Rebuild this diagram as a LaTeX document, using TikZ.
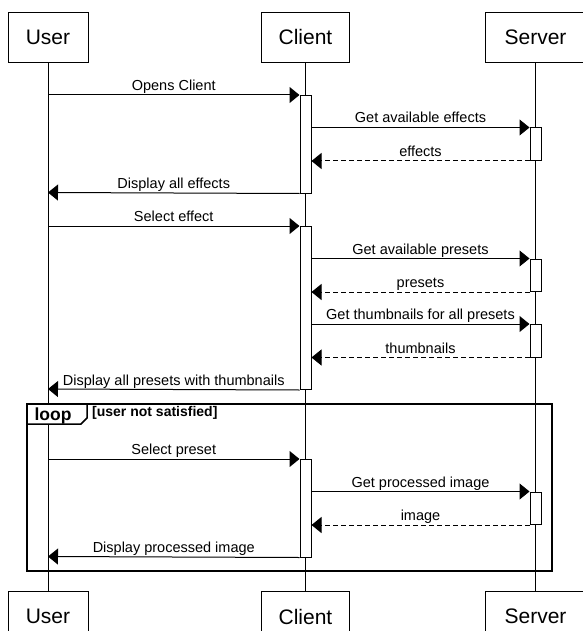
\documentclass[tikz,border=0pt]{standalone}
\usepackage{fontspec}
\setmainfont{Liberation Sans}
\usetikzlibrary{positioning,arrows.meta}

\begin{document}
\begin{tikzpicture}[x=1pt, y=-1pt,
        actor/.style = {
            draw,
            line width=1pt,
            minimum height=50pt,
            inner sep=0pt,
            font=\fontsize{21}{25}\selectfont
        },
        bar/.style = {draw, fill=white, line width=1pt, minimum width=11pt, inner sep=0pt},
        msg/.style = {-{Triangle[length=10pt,width=16pt]}, line width=1pt},
        reply/.style = {msg, dash pattern=on 5pt off 3pt},
        lbl/.style = {midway, anchor=base, yshift=4.5pt, inner sep=0pt, font=\fontsize{14.5}{17}\selectfont},
        tag/.style = {inner sep=0pt, font=\bfseries\fontsize{14}{17}\selectfont}]

        \useasboundingbox (0,0) rectangle (582,631);

        % actors
        \node[actor, minimum width=80pt] (usertop) at (48,37.3) {User};
        \node[actor, minimum width=88pt] (clienttop) at (305.5,37.3) {Client};
        \node[actor, minimum width=100pt] (servertop) at (535.5,37.3) {Server};
        \node[actor, minimum width=80pt, anchor=north] (userbot) at (48,591) {User};
        \node[actor, minimum width=88pt, anchor=north] (clientbot) at (305.5,591) {Client};
        \node[actor, minimum width=100pt, anchor=north] (serverbot) at (535.5,591) {Server};

        \draw[line width=1pt] (usertop) -- (userbot);
        \draw[line width=1pt] (clienttop) -- (clientbot);
        \draw[line width=1pt] (servertop) -- (serverbot);

        % activations
        \node[bar, anchor=north, minimum height=97.5pt] (cbar1) at (305.5,95) {};
        \node[bar, anchor=north, minimum height=163pt] (cbar2) at (305.5,226) {};
        \node[bar, anchor=north, minimum height=97.5pt] (cbar3) at (305.5,459) {};
        \node[bar, anchor=north, minimum height=32.5pt] (sbar1) at (535.5,127.5) {};
        \node[bar, anchor=north, minimum height=32.5pt] (sbar2) at (535.5,258.5) {};
        \node[bar, anchor=north, minimum height=32.5pt] (sbar3) at (535.5,324) {};
        \node[bar, anchor=north, minimum height=32.5pt] (sbar4) at (535.5,491.5) {};

        \coordinate (u1) at (48,95);
        \coordinate (u2) at (48,192.5);
        \coordinate (u3) at (48,226);
        \coordinate (u4) at (48,389);
        \coordinate (u5) at (48,459);
        \coordinate (u6) at (48,556.5);

        % messages
        \draw[msg] (u1) -- (cbar1.north west) node[lbl] {Opens Client};
        \draw[msg] (cbar1.east |- sbar1.north) -- (sbar1.north west) node[lbl] {Get available effects};
        \draw[reply] (sbar1.south west) -- (cbar1.east |- sbar1.south) node[lbl] {effects};
        \draw[msg] (cbar1.south west) -- (u2) node[lbl] {Display all effects};

        \draw[msg] (u3) -- (cbar2.north west) node[lbl] {Select effect};
        \draw[msg] (cbar2.east |- sbar2.north) -- (sbar2.north west) node[lbl] {Get available presets};
        \draw[reply] (sbar2.south west) -- (cbar2.east |- sbar2.south) node[lbl] {presets};
        \draw[msg] (cbar2.east |- sbar3.north) -- (sbar3.north west) node[lbl] {Get thumbnails for all presets};
        \draw[reply] (sbar3.south west) -- (cbar2.east |- sbar3.south) node[lbl] {thumbnails};
        \draw[msg] (cbar2.south west) -- (u4) node[lbl] {Display all presets with thumbnails};

        % loop frame
        \draw[line width=2pt] (27,404) rectangle (552,571);
        \draw[line width=1.5pt, fill=white] (27,404) -- (87,404) -- (87,418) -- (81,424) -- (27,424) -- cycle;
        \node[tag, anchor=base, font=\bfseries\fontsize{17.5}{20}\selectfont] (looptag) at (53,420) {loop};
        \node[tag, anchor=base west] (guard) at (92,416) {[user not satisfied]};

        \draw[msg] (u5) -- (cbar3.north west) node[lbl] {Select preset};
        \draw[msg] (cbar3.east |- sbar4.north) -- (sbar4.north west) node[lbl] {Get processed image};
        \draw[reply] (sbar4.south west) -- (cbar3.east |- sbar4.south) node[lbl] {image};
        \draw[msg] (cbar3.south west) -- (u6) node[lbl] {Display processed image};
    \end{tikzpicture}
\end{document}
